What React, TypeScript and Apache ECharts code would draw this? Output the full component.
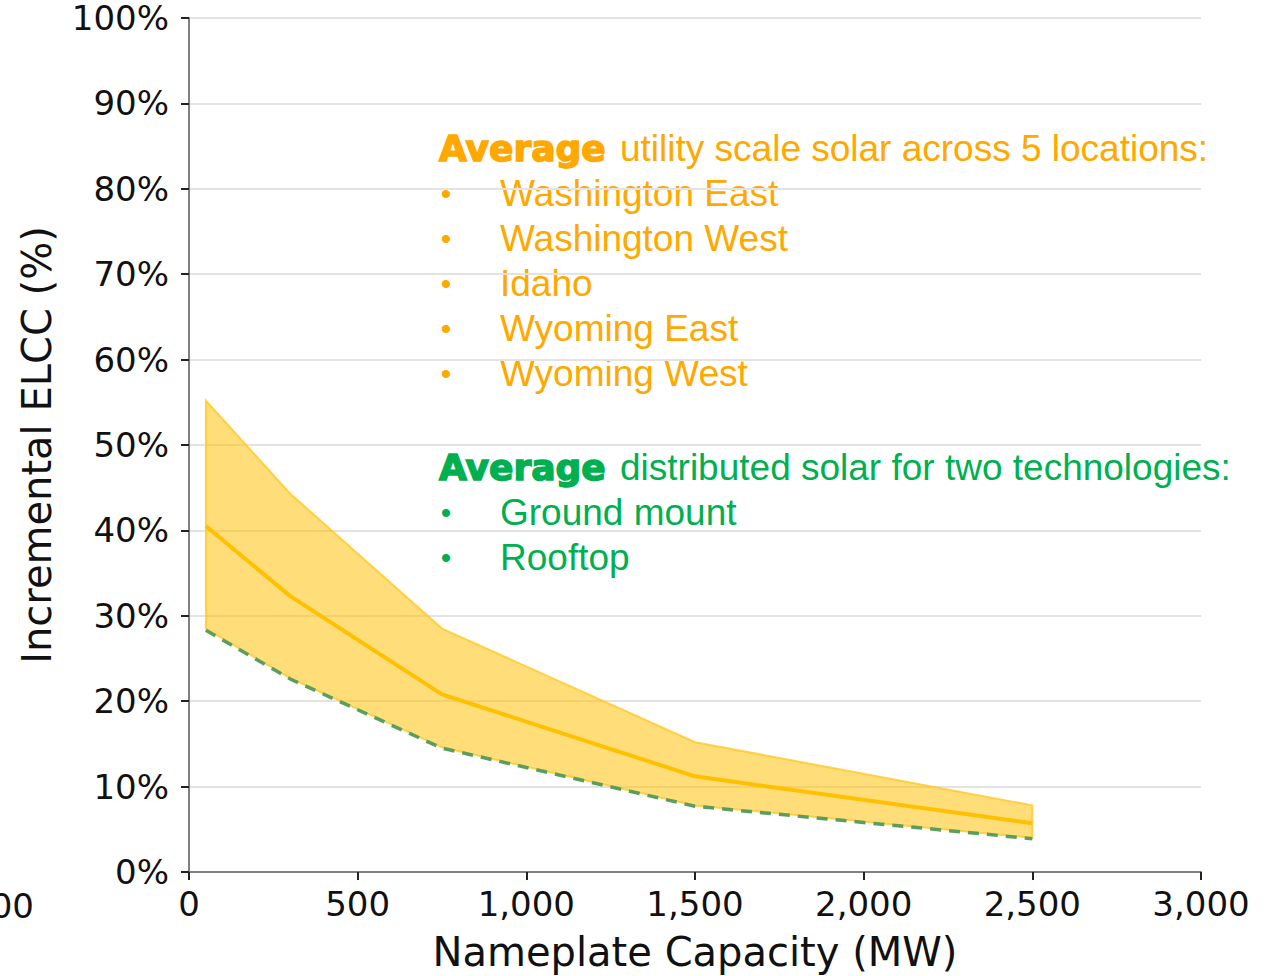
import React, { useEffect, useRef } from "react";
import * as echarts from "echarts";

const capacityMW = [50, 300, 750, 1500, 2500];
const averageUtility = [40.5, 32.3, 20.8, 11.2, 5.7];
const bandUpper = [55.2, 44.3, 28.5, 15.2, 7.8];
const bandLower = [28.5, 22.7, 14.6, 7.8, 4.0];
const averageDistributed = [28.3, 22.6, 14.5, 7.7, 3.9];
const yTicks = [0, 10, 20, 30, 40, 50, 60, 70, 80, 90, 100];
const utilityLocations = ["Washington East", "Washington West", "Idaho", "Wyoming East", "Wyoming West"];
const distributedTechs = ["Ground mount", "Rooftop"];

const ORANGE = "#FFA800";
const GREEN = "#00B050";

export default function App() {
  const ref = useRef<HTMLDivElement>(null);
  useEffect(() => {
    if (!ref.current) return;
    const chart = echarts.init(ref.current, null, { renderer: "svg" });

    const graphics: any[] = [];
    const textFont = "Liberation Sans, Arial, sans-serif";
    const addBlock = (title: string, items: string[], color: string, y0: number) => {
      graphics.push({
        type: "text",
        x: 439,
        y: y0,
        style: {
          text: "Average",
          fill: color,
          stroke: color,
          lineWidth: 1.5,
          font: "bold 36px DejaVu Sans",
          verticalAlign: "middle",
        },
      });
      graphics.push({
        type: "text",
        x: 620,
        y: y0,
        style: { text: title, fill: color, font: "37px " + textFont, verticalAlign: "middle" },
      });
      items.forEach((it, i) => {
        const y = y0 + 45 * (i + 1);
        graphics.push({
          type: "text",
          x: 446,
          y,
          style: { text: "•", fill: color, font: "30px " + textFont, align: "center", verticalAlign: "middle" },
        });
        graphics.push({
          type: "text",
          x: 500,
          y,
          style: { text: it, fill: color, font: "37px " + textFont, verticalAlign: "middle" },
        });
      });
    };
    addBlock("utility scale solar across 5 locations:", utilityLocations, ORANGE, 148);
    addBlock("distributed solar for two technologies:", distributedTechs, GREEN, 467);
    graphics.push({
      type: "text",
      x: 34,
      y: 906,
      style: { text: "-500", fill: "#111", font: "34px DejaVu Sans", align: "right", verticalAlign: "middle" },
    });

    chart.setOption({
      animation: false,
      backgroundColor: "#fff",
      grid: { left: 189, right: 74, top: 18, bottom: 104, containLabel: false, outerBoundsMode: "none" },
      xAxis: {
        type: "value",
        min: 0,
        max: 3000,
        interval: 500,
        name: "Nameplate Capacity (MW)",
        nameLocation: "middle",
        nameGap: 62,
        nameTextStyle: { fontFamily: "DejaVu Sans", fontSize: 40, lineHeight: 36, color: "#111" },
        axisLine: { show: true, lineStyle: { color: "#808080", width: 2 } },
        axisTick: { show: true, length: 8, lineStyle: { color: "#222", width: 2 } },
        axisLabel: {
          margin: 17,
          fontFamily: "DejaVu Sans",
          fontSize: 34,
          lineHeight: 30,
          color: "#111",
          formatter: (v: number) => v.toLocaleString("en-US"),
        },
        splitLine: { show: false },
      },
      yAxis: {
        type: "value",
        min: 0,
        max: 100,
        interval: 10,
        name: "Incremental ELCC (%)",
        nameLocation: "middle",
        nameGap: 132,
        nameRotate: 90,
        nameTextStyle: { fontFamily: "DejaVu Sans", fontSize: 40, color: "#111" },
        axisLine: { show: true, lineStyle: { color: "#808080", width: 2 } },
        axisTick: { show: true, length: 8, lineStyle: { color: "#222", width: 2 } },
        axisLabel: {
          margin: 20,
          fontFamily: "DejaVu Sans",
          fontSize: 34,
          lineHeight: 30,
          color: "#111",
          formatter: (v: number) => (yTicks.includes(v) ? v + "%" : ""),
        },
        splitLine: { show: true, lineStyle: { color: "#e3e3e3", width: 2 } },
      },
      series: [
        {
          type: "custom",
          name: "Range",
          data: [0],
          z: 1,
          renderItem: (_params: any, api: any) => {
            const pts: number[][] = [];
            capacityMW.forEach((x, i) => pts.push(api.coord([x, bandUpper[i]])));
            for (let i = capacityMW.length - 1; i >= 0; i--) pts.push(api.coord([capacityMW[i], bandLower[i]]));
            return {
              type: "polygon",
              shape: { points: pts },
              style: { fill: "rgba(255,192,0,0.52)", stroke: "rgba(255,200,40,0.8)", lineWidth: 2 },
            };
          },
        },
        {
          type: "line",
          name: "Average utility",
          data: capacityMW.map((x, i) => [x, averageUtility[i]]),
          showSymbol: false,
          z: 3,
          lineStyle: { color: "#FFC000", width: 4 },
        },
        {
          type: "line",
          name: "Average distributed",
          data: capacityMW.map((x, i) => [x, averageDistributed[i]]),
          showSymbol: false,
          z: 4,
          lineStyle: { color: "#5A9E5E", width: 3.5, type: [11, 8] },
        },
      ],
      graphic: graphics,
    });
    return () => chart.dispose();
  }, []);
  return <div ref={ref} style={{ position: "absolute", left: 0, top: 0, width: 1275, height: 976 }} />;
}
